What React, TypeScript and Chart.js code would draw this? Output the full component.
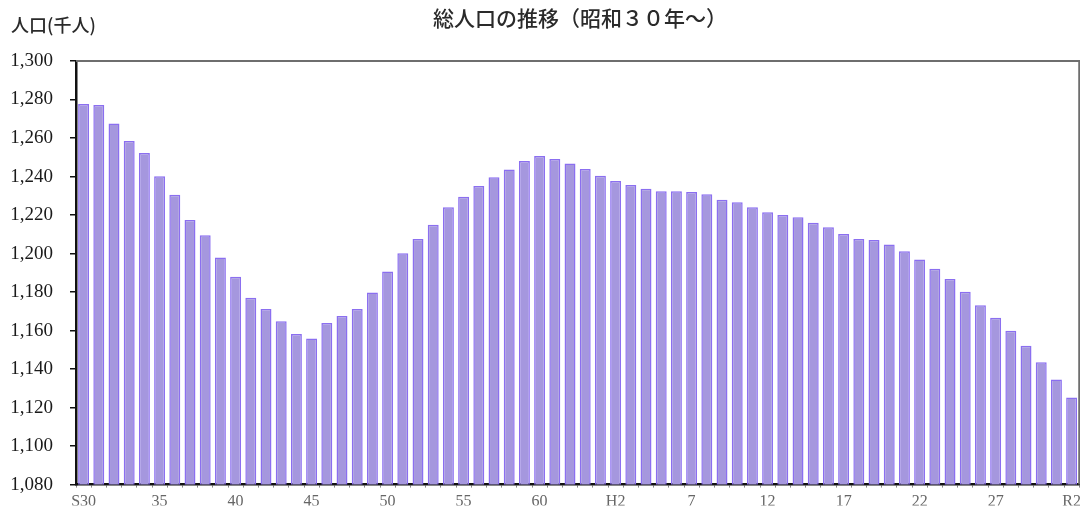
import React, { useEffect, useRef } from "react";
import { Chart, registerables } from "chart.js";

Chart.register(...registerables);

// 年次ラベル（昭和30年〜令和2年）
const years: string[] = [
  "S30", "31", "32", "33", "34", "35", "36", "37", "38", "39",
  "40", "41", "42", "43", "44", "45", "46", "47", "48", "49",
  "50", "51", "52", "53", "54", "55", "56", "57", "58", "59",
  "60", "61", "62", "63", "H1", "H2", "3", "4", "5", "6",
  "7", "8", "9", "10", "11", "12", "13", "14", "15", "16",
  "17", "18", "19", "20", "21", "22", "23", "24", "25", "26",
  "27", "28", "29", "30", "R1", "R2",
];

// 5年おきに表示する目盛ラベル
const shownLabels: string[] = [
  "S30", "35", "40", "45", "50", "55", "60", "H2", "7", "12", "17", "22", "27", "R2",
];

// 総人口（千人）
const population: number[] = [
  1277.7, 1277.1, 1267.6, 1258.4, 1252.2, 1240.1, 1230.5, 1217.4, 1209.5, 1198.0,
  1188.0, 1177.1, 1171.2, 1164.8, 1158.2, 1155.9, 1163.9, 1167.5, 1171.2, 1179.8,
  1190.7, 1200.1, 1207.5, 1215.0, 1224.0, 1229.5, 1235.1, 1239.6, 1243.7, 1248.1,
  1250.6, 1249.1, 1246.8, 1243.9, 1240.4, 1237.7, 1235.6, 1233.7, 1232.3, 1232.3,
  1232.0, 1230.8, 1227.9, 1226.6, 1224.0, 1221.4, 1220.0, 1218.8, 1216.0, 1213.6,
  1210.1, 1207.5, 1207.0, 1204.7, 1201.2, 1196.9, 1192.1, 1186.8, 1180.2, 1173.2,
  1166.7, 1159.9, 1152.1, 1143.5, 1134.6, 1125.3,
];

const yMin = 1080;
const yMax = 1300;
const yStep = 20;

const chartTitle = "総人口の推移（昭和３０年～）";
const yAxisTitle = "人口(千人)";

const CJK = '"Noto Sans CJK JP", "Noto Sans", sans-serif';
const SERIF = '"Liberation Serif", "DejaVu Serif", serif';

// 見出しと枠線の描画
const decorations = {
  id: "decorations",
  afterDatasetsDraw(chart: Chart) {
    const { ctx, chartArea } = chart;
    ctx.save();
    // 上辺・右辺の枠線
    ctx.strokeStyle = "#6e6e6e";
    ctx.lineWidth = 2;
    ctx.beginPath();
    ctx.moveTo(chartArea.left, chartArea.top);
    ctx.lineTo(chartArea.right, chartArea.top);
    ctx.lineTo(chartArea.right, chartArea.bottom);
    ctx.stroke();
    ctx.restore();
  },
  afterDraw(chart: Chart) {
    const { ctx } = chart;
    ctx.save();
    ctx.fillStyle = "#2a2a2a";
    ctx.textBaseline = "middle";
    ctx.font = `500 21px ${CJK}`;
    ctx.textAlign = "center";
    ctx.fillText(chartTitle, 580, 18);
    ctx.font = `500 18px ${CJK}`;
    ctx.textAlign = "left";
    ctx.fillText(yAxisTitle, 11, 25);
    ctx.restore();
  },
};

export default function App() {
  const canvasRef = useRef<HTMLCanvasElement | null>(null);

  useEffect(() => {
    document.body.style.margin = "0";
    document.body.style.overflow = "hidden";
    const canvas = canvasRef.current;
    if (!canvas) return;
    const chart = new Chart(canvas, {
      type: "bar",
      data: {
        labels: years,
        datasets: [
          {
            label: "総人口",
            data: population,
            backgroundColor: "#a597de",
            borderColor: "#8b6ff0",
            borderWidth: 1.5,
            barPercentage: 0.72,
            categoryPercentage: 1.0,
          },
        ],
      },
      options: {
        responsive: false,
        animation: false,
        devicePixelRatio: 1,
        layout: { padding: { top: 61, right: 4, left: 0, bottom: 0 } },
        plugins: {
          legend: { display: false },
          title: { display: false },
          tooltip: { enabled: false },
        },
        scales: {
          x: {
            grid: {
              display: true,
              drawOnChartArea: false,
              drawTicks: true,
              tickLength: 3,
              color: "#888",
              offset: true,
            },
            border: { display: true, color: "#111", width: 2.5 },
            ticks: {
              autoSkip: false,
              maxRotation: 0,
              minRotation: 0,
              padding: 5,
              color: "#666",
              font: { family: SERIF, size: 16 },
              callback: (_v, i) => (shownLabels.includes(years[i]) && i % 5 === 0 ? years[i] : ""),
            },
            afterFit: (scale) => {
              scale.height = 21;
            },
          },
          y: {
            min: yMin,
            max: yMax,
            grid: {
              display: true,
              drawOnChartArea: false,
              drawTicks: true,
              tickLength: 6,
              color: "#111",
              lineWidth: 1.5,
            },
            border: { display: true, color: "#111", width: 2.5 },
            ticks: {
              stepSize: yStep,
              padding: 17,
              color: "#1a1a1a",
              font: { family: SERIF, size: 19 },
              callback: (v) => Number(v).toLocaleString("en-US"),
            },
            afterFit: (scale) => {
              scale.width = 76;
            },
          },
        },
      },
      plugins: [decorations],
    });
    return () => chart.destroy();
  }, []);

  return (
    <div style={{ width: 1080, height: 509, overflow: "hidden", position: "relative", background: "#fff" }}>
      <canvas ref={canvasRef} width={1086} height={513} style={{ display: "block" }} />
    </div>
  );
}
